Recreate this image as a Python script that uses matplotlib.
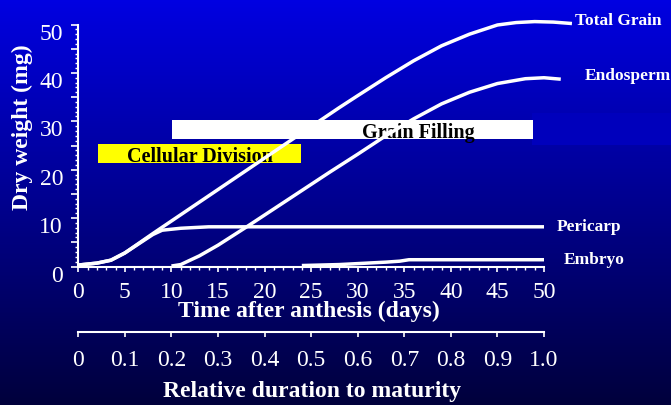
import numpy as np
import matplotlib.pyplot as plt
from matplotlib.colors import LinearSegmentedColormap
from matplotlib.patches import Rectangle
from matplotlib.transforms import ScaledTranslation

plt.rcParams["font.family"] = ["Liberation Serif", "DejaVu Serif"]

# Dry weight of grain parts (mg) against days after anthesis
total_days = [0, 2, 3.5, 5, 8, 12, 16, 20, 24, 28, 30, 33, 36, 39, 42, 45, 47, 49, 51, 53]
total_grain = [0.3, 0.7, 1.3, 2.8, 6.8, 12, 17.2, 22.4, 27.6, 32.8, 35.3, 39, 42.5,
               45.6, 48, 49.9, 50.4, 50.6, 50.5, 50.2]

endo_days = [10, 11, 13, 15, 18, 21, 24, 27, 30, 33, 36, 39, 42, 45, 48, 50, 51.8]
endosperm = [0.1, 0.4, 2.2, 4.4, 8.1, 11.9, 15.7, 19.5, 23.2, 27, 30.5, 33.6, 36,
             37.8, 38.8, 39, 38.7]

peri_days = [0, 2, 3.5, 5, 8, 9, 11, 14, 50]
pericarp = [0.3, 0.7, 1.3, 2.8, 6.6, 7.5, 7.9, 8.2, 8.2]

embryo_days = [24, 28, 31, 33, 34.5, 35.5, 50]
embryo = [0.2, 0.4, 0.7, 0.9, 1.1, 1.4, 1.4]

# developmental phases (start and end day)
phase_names = ["Cellular Division", "Grain Filling"]
phase_start = [2.1, 10.1]
phase_end = [23.9, 48.8]

day_ticks = list(range(0, 51, 5))
rel_ticks = [i / 10 for i in range(11)]
rel_labels = ["0", "0.1", "0.2", "0.3", "0.4", "0.5", "0.6", "0.7", "0.8", "0.9", "1.0"]

W, H = 671, 405
fig = plt.figure(figsize=(W / 100, H / 100), dpi=100)

# blue gradient background
bg = fig.add_axes([0, 0, 1, 1], zorder=-10)
bg.axis("off")
cmap = LinearSegmentedColormap.from_list("slide", ["#0000e1", "#00003c"])
grad = np.linspace(0, 1, 400).reshape(-1, 1)
bg.imshow(grad, aspect="auto", cmap=cmap, extent=[0, 1, 0, 1], origin="upper")
bg.add_patch(Rectangle((531.7 / W, 1 - 145 / H), (W - 531.7) / W, 32.3 / H,
                       color="#0000bc", lw=0))
bg.set_xlim(0, 1)
bg.set_ylim(0, 1)

x0, x1 = 78.3, 544
y0, y1 = 266.5, 24.5
ax = fig.add_axes([x0 / W, 1 - y0 / H, (x1 - x0) / W, (y0 - y1) / H])
ax.patch.set_alpha(0)
ax.set_xlim(0, 50)
ax.set_ylim(0, 50)

for side in ["top", "right"]:
    ax.spines[side].set_visible(False)
for side in ["left", "bottom"]:
    ax.spines[side].set_color("white")
    ax.spines[side].set_linewidth(1.5)

ax.set_xticks(day_ticks)
ax.set_xticklabels([str(d) for d in day_ticks])
ax.set_xticks(range(0, 51), minor=True)
ax.set_yticks(range(0, 51, 5))
ax.set_yticklabels([str(v) if v % 10 == 0 else "" for v in range(0, 51, 5)])
ax.set_yticks(range(0, 51), minor=True)
ax.tick_params(axis="x", which="major", direction="out", length=3.5, width=1.2,
               colors="white", labelsize=17, pad=7.5)
ax.tick_params(axis="x", which="minor", direction="out", length=2.5, width=1,
               colors="white")
ax.tick_params(axis="y", which="major", direction="out", length=5, width=1.2,
               colors="white", labelsize=17, pad=6)
ax.tick_params(axis="y", which="minor", direction="out", length=2.5, width=1,
               colors="white")
shift = ScaledTranslation(0, -7 / 100, fig.dpi_scale_trans)
for lab in ax.get_yticklabels():
    lab.set_transform(lab.get_transform() + shift)

# phase bars
ax.barh(25.3 - 3.9 / 2, phase_end[0] - phase_start[0], left=phase_start[0],
        height=3.9, color="#ffff00", zorder=1)
ax.barh(30.3 - 4.0 / 2, phase_end[1] - phase_start[1], left=phase_start[1],
        height=4.0, color="white", zorder=1)
ax.text(13.05, 22.6, phase_names[0], ha="center", va="center", fontsize=14.5,
        fontweight="bold", color="black", zorder=2)
ax.text(36.5, 27.5, phase_names[1], ha="center", va="center", fontsize=14.5,
        fontweight="bold", color="black", zorder=2)

# growth curves
series = [
    (total_days, total_grain, "Total Grain", 2.5, 2),
    (endo_days, endosperm, "Endosperm", 17.5, 2),
    (peri_days, pericarp, "Pericarp", 9.5, 0),
    (embryo_days, embryo, "Embryo", 14, 0),
]
for xs, ys, name, dx, dy in series:
    ax.plot(xs, ys, color="white", lw=2.5, zorder=3, clip_on=False,
            solid_capstyle="butt")
    ax.annotate(name, xy=(xs[-1], ys[-1]), xytext=(dx, dy),
                textcoords="offset points", ha="left", va="center",
                fontsize=12.5, fontweight="bold", color="white",
                annotation_clip=False)

fig.text(309 / W, 1 - 311.7 / H, "Time after anthesis (days)", ha="center",
         va="center", fontsize=17, fontweight="bold", color="white")
fig.text(22.5 / W, 1 - 127 / H, "Dry weight (mg)", ha="center", va="center",
         rotation=90, fontsize=17, fontweight="bold", color="white")

# relative duration scale below
ax2 = fig.add_axes([x0 / W, 1 - 332.3 / H, (x1 - x0) / W, 0.001])
ax2.patch.set_alpha(0)
for side in ["top", "right", "left"]:
    ax2.spines[side].set_visible(False)
ax2.spines["bottom"].set_color("white")
ax2.spines["bottom"].set_linewidth(1.5)
ax2.set_xlim(0, 1)
ax2.set_yticks([])
ax2.set_xticks(rel_ticks)
ax2.set_xticklabels(rel_labels)
ax2.tick_params(axis="x", direction="out", length=3.5, width=1.2, colors="white",
                labelsize=17, pad=9.5)
fig.text(312 / W, 1 - 391.7 / H, "Relative duration to maturity", ha="center",
         va="center", fontsize=17, fontweight="bold", color="white")

fig.savefig("out.png", dpi=100)
